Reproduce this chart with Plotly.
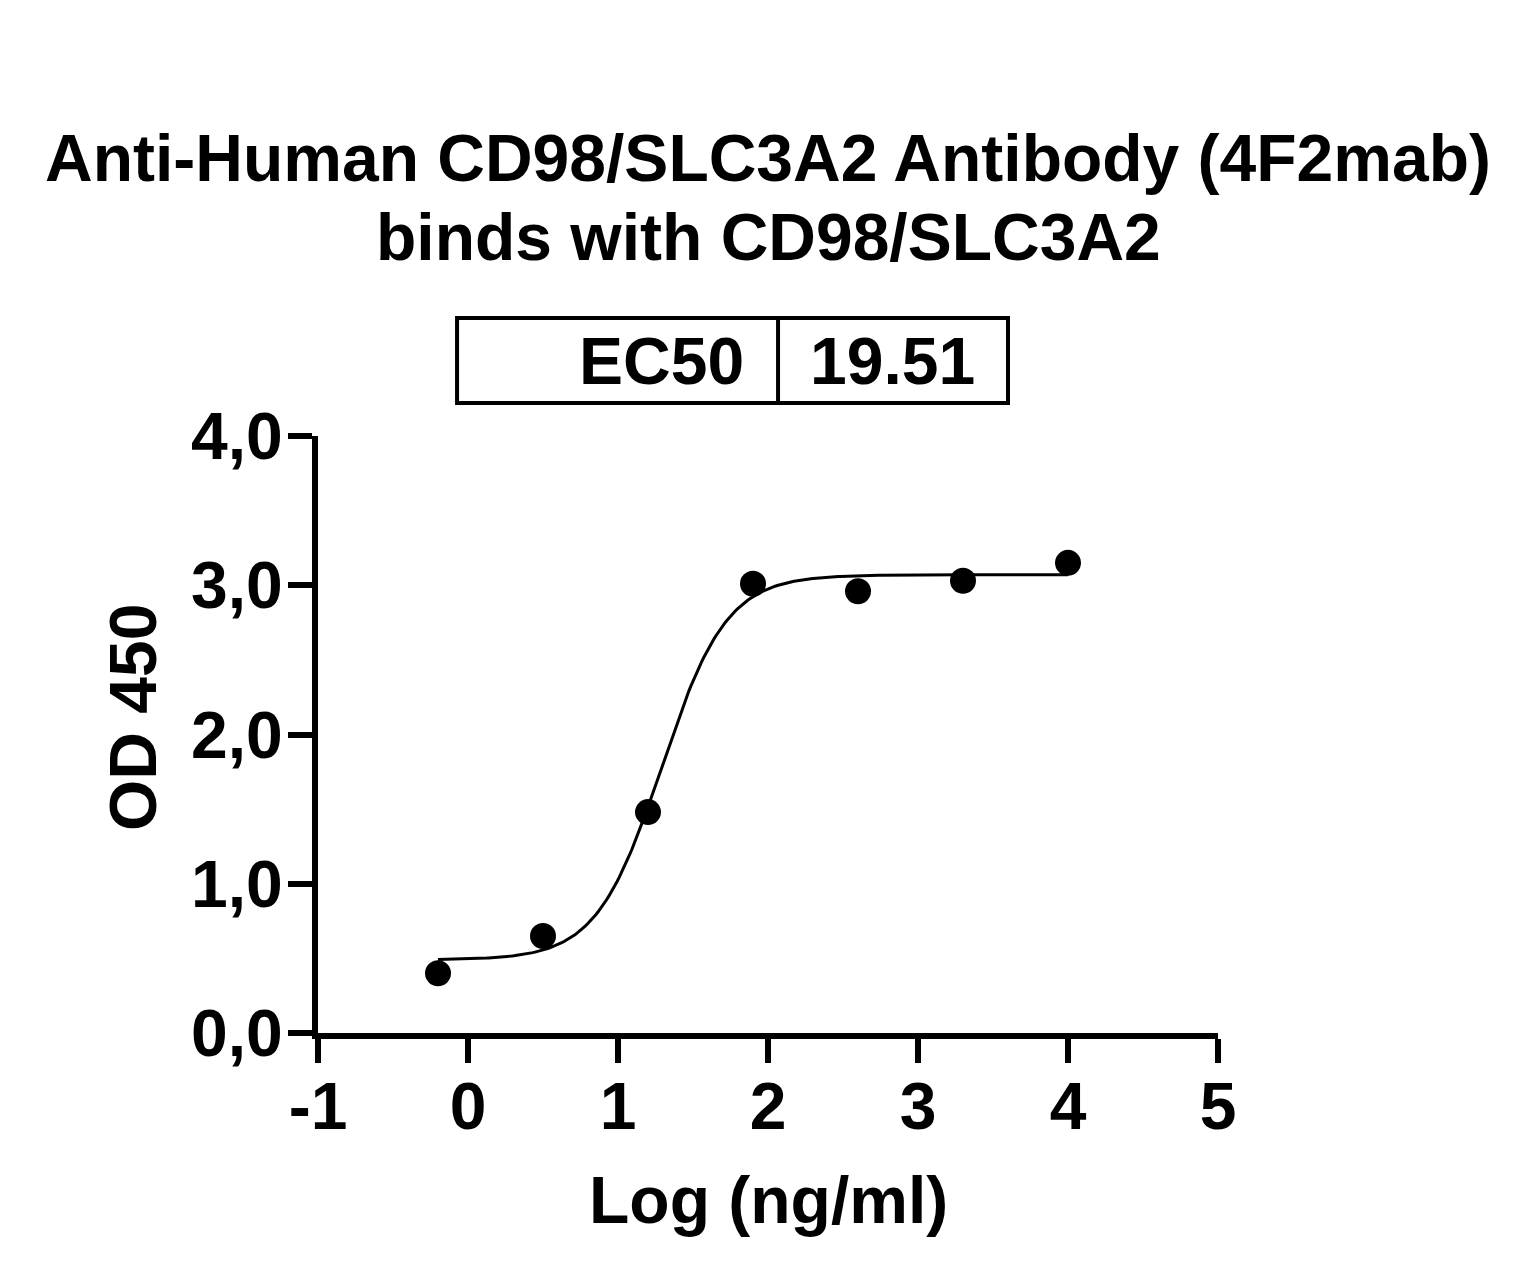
import numpy as np
import plotly.graph_objects as go

# measured points (log concentration, OD450)
log_conc = [-0.2, 0.5, 1.2, 1.9, 2.6, 3.3, 4.0]
od450 = [0.40, 0.65, 1.48, 3.01, 2.96, 3.03, 3.15]

# 4PL fit parameters
fit_bottom = 0.49
fit_top = 3.07
ec50 = 19.51
fit_hill = 2.0

x_ticks = [-1, 0, 1, 2, 3, 4, 5]
x_ticktext = ["-1", "0", "1", "2", "3", "4", "5"]
y_ticks = [0, 1, 2, 3, 4]
y_ticktext = ["0,0", "1,0", "2,0", "3,0", "4,0"]

title_lines = ["Anti-Human CD98/SLC3A2 Antibody (4F2mab)", "binds with CD98/SLC3A2"]

FONT = "Liberation Sans, Arial, sans-serif"

xf = np.linspace(min(log_conc), max(log_conc), 300)
yf = fit_bottom + (fit_top - fit_bottom) / (1 + 10 ** ((np.log10(ec50) - xf) * fit_hill))

fig = go.Figure()
fig.add_trace(go.Scatter(x=xf, y=yf, mode="lines",
                         line=dict(color="black", width=3), hoverinfo="skip"))
fig.add_trace(go.Scatter(x=log_conc, y=od450, mode="markers",
                         marker=dict(color="black", size=26)))

axis_font = dict(family=FONT, size=66, color="black", weight="bold")

fig.update_layout(
    width=1537, height=1280,
    margin=dict(l=310, r=327, t=428, b=255, pad=0),
    paper_bgcolor="white", plot_bgcolor="white",
    showlegend=False,
    xaxis=dict(range=[-1, 5], tickvals=x_ticks, ticktext=x_ticktext, ticks="outside",
               ticklen=24, tickwidth=6, tickcolor="black", showline=True, linewidth=6,
               linecolor="black", showgrid=False, zeroline=False, tickfont=axis_font,
               ticklabelstandoff=-13),
    yaxis=dict(range=[0, 4], tickvals=y_ticks, ticktext=y_ticktext, ticks="outside",
               ticklen=24, tickwidth=6, tickcolor="black", showline=True, linewidth=6,
               linecolor="black", showgrid=False, zeroline=False, tickfont=axis_font,
               ticklabelstandoff=-8),
)

title_font = dict(family=FONT, size=66, color="black", weight="bold")
fig.add_annotation(text=title_lines[0], xref="paper", yref="paper", x=0.5, y=1.0 + 278 / 597,
                   xanchor="center", yanchor="middle", showarrow=False, font=title_font)
fig.add_annotation(text=title_lines[1], xref="paper", yref="paper", x=0.5, y=1.0 + 199 / 597,
                   xanchor="center", yanchor="middle", showarrow=False, font=title_font)

# axis titles
fig.add_annotation(text="Log (ng/ml)", xref="paper", yref="paper", x=0.5, y=-167 / 597,
                   xanchor="center", yanchor="middle", showarrow=False, font=title_font)
fig.add_annotation(text="OD 450", xref="paper", yref="paper", x=-185 / 900, y=315 / 597,
                   xanchor="center", yanchor="middle", showarrow=False, font=title_font,
                   textangle=-90)

# EC50 table
box_y0 = (1033 - 403) / 597
box_y1 = (1033 - 318) / 597
fig.add_shape(type="rect", xref="x", yref="paper", x0=-0.073, x1=3.6, y0=box_y0, y1=box_y1,
              line=dict(color="black", width=4))
fig.add_shape(type="line", xref="x", yref="paper", x0=2.067, x1=2.067, y0=box_y0, y1=box_y1,
              line=dict(color="black", width=4))
fig.add_annotation(text="EC50", xref="x", yref="paper", x=1.85, y=(box_y0 + box_y1) / 2,
                   xanchor="right", yanchor="middle", showarrow=False, font=title_font)
fig.add_annotation(text=f"{ec50:.2f}", xref="x", yref="paper", x=2.833, y=(box_y0 + box_y1) / 2,
                   xanchor="center", yanchor="middle", showarrow=False, font=title_font)

fig.write_html("out.html")
